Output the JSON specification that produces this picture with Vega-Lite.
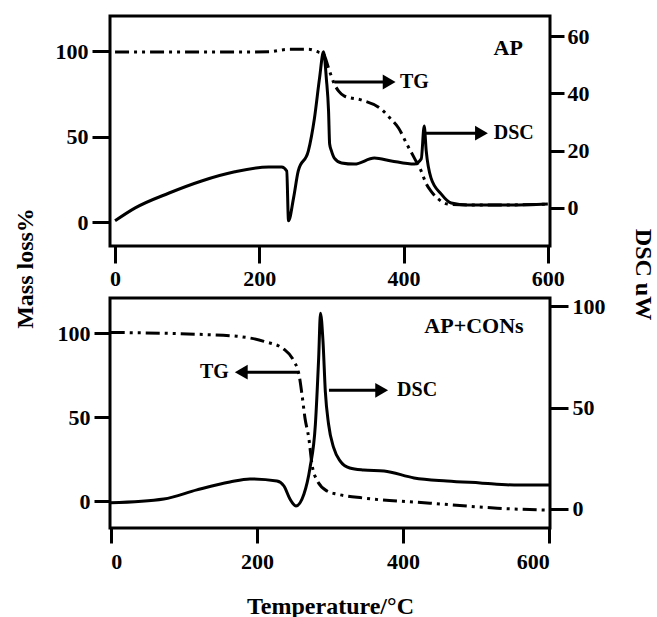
{
  "$schema": "https://vega.github.io/schema/vega-lite/v6.json",
  "padding": {"left": 11, "top": 14, "right": 5, "bottom": 5},
  "bounds": "flush",
  "spacing": 52,
  "config": {
    "font": "Liberation Serif",
    "view": {"stroke": "black", "strokeWidth": 3},
    "axis": {
      "grid": false, "domain": false, "tickColor": "black", "tickWidth": 3,
      "labelFont": "Liberation Serif", "labelFontWeight": "bold", "labelFontSize": 22, "labelColor": "black",
      "titleFont": "Liberation Serif", "titleFontWeight": "bold", "titleFontSize": 24, "titleColor": "black"
    }
  },
  "datasets": {
    "topTG": [
      {"T": 0, "mass": 99.5}, {"T": 60, "mass": 99.5}, {"T": 120, "mass": 99.5}, {"T": 180, "mass": 99.5},
      {"T": 213, "mass": 99.6}, {"T": 240, "mass": 101}, {"T": 268, "mass": 101}, {"T": 282, "mass": 99.4},
      {"T": 289, "mass": 98.2}, {"T": 296, "mass": 90}, {"T": 304, "mass": 80.7}, {"T": 310, "mass": 76.6},
      {"T": 318, "mass": 73.7}, {"T": 342, "mass": 71.3}, {"T": 369, "mass": 66}, {"T": 383, "mass": 60},
      {"T": 393, "mass": 55}, {"T": 404, "mass": 46}, {"T": 415, "mass": 37.4}, {"T": 424.5, "mass": 29.8},
      {"T": 431, "mass": 22.8}, {"T": 438, "mass": 18.1}, {"T": 448, "mass": 13.5}, {"T": 462, "mass": 10.5},
      {"T": 489, "mass": 10}, {"T": 540, "mass": 10}, {"T": 600, "mass": 10.5}
    ],
    "topDSC": [
      {"T": 0, "dsc": -4.5}, {"T": 28, "dsc": 0}, {"T": 75, "dsc": 5.2}, {"T": 120, "dsc": 9.4},
      {"T": 166, "dsc": 12.6}, {"T": 213, "dsc": 14.3}, {"T": 231, "dsc": 14.3}, {"T": 238, "dsc": 12.9},
      {"T": 240.5, "dsc": -4.5}, {"T": 247.5, "dsc": 3.5}, {"T": 254, "dsc": 12.9}, {"T": 268, "dsc": 19.9},
      {"T": 276.5, "dsc": 31.4}, {"T": 283.5, "dsc": 45.3}, {"T": 289, "dsc": 54.5}, {"T": 293, "dsc": 45},
      {"T": 296, "dsc": 33.8}, {"T": 297.5, "dsc": 22.3}, {"T": 300, "dsc": 19.9}, {"T": 304, "dsc": 17.4},
      {"T": 314, "dsc": 15.7}, {"T": 332, "dsc": 15.3}, {"T": 359.5, "dsc": 17.4}, {"T": 383, "dsc": 16.4},
      {"T": 415, "dsc": 15.3}, {"T": 424.5, "dsc": 17.1}, {"T": 428.6, "dsc": 28.6}, {"T": 431.4, "dsc": 19.9},
      {"T": 438, "dsc": 10.5}, {"T": 452, "dsc": 4.9}, {"T": 466, "dsc": 1.7}, {"T": 489, "dsc": 1},
      {"T": 550, "dsc": 1}, {"T": 600, "dsc": 1.4}
    ],
    "topArrows": [
      {"from": 304, "to": 380, "head": 380, "mass": 81.9, "dir": "right"},
      {"from": 431, "to": 508, "head": 508, "mass": 52, "dir": "right"}
    ],
    "topLabels": [
      {"T": 395, "mass": 81.9, "label": "TG"},
      {"T": 525, "mass": 52, "label": "DSC"}
    ],
    "topName": [{"T": 545, "mass": 101.8, "label": "AP"}],
    "botTG": [
      {"T": 0, "mass": 100.5}, {"T": 72.6, "mass": 100}, {"T": 118, "mass": 99.4}, {"T": 172.6, "mass": 98.2},
      {"T": 209.6, "mass": 95.2}, {"T": 237, "mass": 90.5}, {"T": 250.7, "mass": 83.3}, {"T": 257.5, "mass": 75.6},
      {"T": 261.6, "mass": 63.7}, {"T": 265.8, "mass": 49.4}, {"T": 271.2, "mass": 37}, {"T": 275.3, "mass": 22},
      {"T": 282.2, "mass": 12.5}, {"T": 296, "mass": 6}, {"T": 309.6, "mass": 4.2}, {"T": 346.6, "mass": 1.8},
      {"T": 437, "mass": -1.2}, {"T": 528.8, "mass": -4.2}, {"T": 600, "mass": -5.4}
    ],
    "botDSC": [
      {"T": 0, "dsc": 3}, {"T": 72.6, "dsc": 4.9}, {"T": 117.8, "dsc": 9.4}, {"T": 163, "dsc": 13.3},
      {"T": 190.4, "dsc": 14.8}, {"T": 227.4, "dsc": 13.8}, {"T": 237, "dsc": 11.3}, {"T": 245.2, "dsc": 4.9},
      {"T": 253.4, "dsc": 1.5}, {"T": 264.4, "dsc": 7.4}, {"T": 272.6, "dsc": 20.2}, {"T": 280, "dsc": 41.7},
      {"T": 284.5, "dsc": 74.5}, {"T": 287, "dsc": 96.5}, {"T": 290.4, "dsc": 82.8}, {"T": 293.6, "dsc": 58},
      {"T": 298, "dsc": 41.9}, {"T": 305, "dsc": 30.2}, {"T": 314, "dsc": 23.6}, {"T": 327, "dsc": 20.2},
      {"T": 346, "dsc": 19.2}, {"T": 374, "dsc": 18.7}, {"T": 415, "dsc": 15.3}, {"T": 460, "dsc": 13.8},
      {"T": 505.5, "dsc": 12.8}, {"T": 552, "dsc": 11.8}, {"T": 600, "dsc": 11.8}
    ],
    "botArrows": [
      {"from": 257.5, "to": 178.6, "head": 178.6, "mass": 76.8, "dir": "left"},
      {"from": 298.6, "to": 370.7, "head": 370.7, "mass": 66, "dir": "right"}
    ],
    "botLabelR": [{"T": 161.6, "mass": 76.8, "label": "TG"}],
    "botLabelL": [{"T": 391.8, "mass": 66, "label": "DSC"}],
    "botName": [{"T": 497, "mass": 104.2, "label": "AP+CONs"}]
  },
  "vconcat": [
    {
      "width": 440,
      "height": 230,
      "layer": [
        {
          "layer": [
            {
              "data": {"name": "topTG"},
              "mark": {"type": "line", "color": "black", "strokeWidth": 3, "strokeDash": [14, 5, 3, 5, 3, 5], "interpolate": "monotone"},
              "encoding": {
                "x": {"field": "T", "type": "quantitative", "scale": {"domain": [-7, 603], "nice": false, "zero": false},
                      "axis": {"values": [0, 200, 400, 600], "title": null, "tickSize": 17, "labelPadding": 5}},
                "y": {"field": "mass", "type": "quantitative", "scale": {"domain": [-14, 120.5], "nice": false, "zero": false},
                      "axis": {"values": [0, 50, 100], "tickSize": 18, "labelPadding": 4, "title": "Mass loss%",
                               "titleAngle": 270, "titleX": -85, "titleY": 252, "titleAlign": "center", "titleBaseline": "middle"}}
              }
            },
            {
              "data": {"name": "topArrows"},
              "mark": {"type": "rule", "color": "black", "strokeWidth": 3},
              "encoding": {
                "x": {"field": "from", "type": "quantitative"},
                "x2": {"field": "to"},
                "y": {"field": "mass", "type": "quantitative"}
              }
            },
            {
              "data": {"name": "topArrows"},
              "mark": {"type": "point", "filled": true, "size": 220, "color": "black", "opacity": 1},
              "encoding": {
                "x": {"field": "head", "type": "quantitative"},
                "y": {"field": "mass", "type": "quantitative"},
                "shape": {"field": "dir", "type": "nominal", "scale": {"domain": ["left", "right"], "range": ["triangle-left", "triangle-right"]}, "legend": null}
              }
            },
            {
              "data": {"name": "topLabels"},
              "mark": {"type": "text", "align": "left", "baseline": "middle", "font": "Liberation Serif", "fontWeight": "bold", "fontSize": 20, "color": "black"},
              "encoding": {
                "x": {"field": "T", "type": "quantitative"},
                "y": {"field": "mass", "type": "quantitative"},
                "text": {"field": "label"}
              }
            },
            {
              "data": {"name": "topName"},
              "mark": {"type": "text", "align": "center", "baseline": "middle", "font": "Liberation Serif", "fontWeight": "bold", "fontSize": 22, "color": "black"},
              "encoding": {
                "x": {"field": "T", "type": "quantitative"},
                "y": {"field": "mass", "type": "quantitative"},
                "text": {"field": "label"}
              }
            }
          ]
        },
        {
          "data": {"name": "topDSC"},
          "mark": {"type": "line", "color": "black", "strokeWidth": 3, "interpolate": "monotone"},
          "encoding": {
            "x": {"field": "T", "type": "quantitative"},
            "y": {"field": "dsc", "type": "quantitative", "scale": {"domain": [-13.3, 67], "nice": false, "zero": false},
                  "axis": {"orient": "right", "values": [0, 20, 40, 60], "tickSize": 14, "labelPadding": 3, "title": "DSC uW",
                           "titleAngle": 90, "titleX": 92, "titleY": 258, "titleAlign": "center", "titleBaseline": "middle"}}
          }
        }
      ],
      "resolve": {"scale": {"y": "independent"}, "axis": {"y": "independent"}}
    },
    {
      "width": 440,
      "height": 230,
      "layer": [
        {
          "layer": [
            {
              "data": {"name": "botTG"},
              "mark": {"type": "line", "color": "black", "strokeWidth": 3, "strokeDash": [14, 5, 3, 5, 3, 5], "interpolate": "monotone"},
              "encoding": {
                "x": {"field": "T", "type": "quantitative", "scale": {"domain": [-1, 601], "nice": false, "zero": false},
                      "axis": {"values": [0, 200, 400, 600], "title": "Temperature/°C", "tickSize": 15, "labelPadding": 8,
                               "titleY": 85, "titleBaseline": "alphabetic"}},
                "y": {"field": "mass", "type": "quantitative", "scale": {"domain": [-16, 121], "nice": false, "zero": false},
                      "axis": {"values": [0, 50, 100], "tickSize": 16, "labelPadding": 4, "title": null}}
              }
            },
            {
              "data": {"name": "botArrows"},
              "mark": {"type": "rule", "color": "black", "strokeWidth": 3},
              "encoding": {
                "x": {"field": "from", "type": "quantitative"},
                "x2": {"field": "to"},
                "y": {"field": "mass", "type": "quantitative"}
              }
            },
            {
              "data": {"name": "botArrows"},
              "mark": {"type": "point", "filled": true, "size": 220, "color": "black", "opacity": 1},
              "encoding": {
                "x": {"field": "head", "type": "quantitative"},
                "y": {"field": "mass", "type": "quantitative"},
                "shape": {"field": "dir", "type": "nominal", "scale": {"domain": ["left", "right"], "range": ["triangle-left", "triangle-right"]}, "legend": null}
              }
            },
            {
              "data": {"name": "botLabelR"},
              "mark": {"type": "text", "align": "right", "baseline": "middle", "font": "Liberation Serif", "fontWeight": "bold", "fontSize": 20, "color": "black"},
              "encoding": {
                "x": {"field": "T", "type": "quantitative"},
                "y": {"field": "mass", "type": "quantitative"},
                "text": {"field": "label"}
              }
            },
            {
              "data": {"name": "botLabelL"},
              "mark": {"type": "text", "align": "left", "baseline": "middle", "font": "Liberation Serif", "fontWeight": "bold", "fontSize": 20, "color": "black"},
              "encoding": {
                "x": {"field": "T", "type": "quantitative"},
                "y": {"field": "mass", "type": "quantitative"},
                "text": {"field": "label"}
              }
            },
            {
              "data": {"name": "botName"},
              "mark": {"type": "text", "align": "center", "baseline": "middle", "font": "Liberation Serif", "fontWeight": "bold", "fontSize": 22, "color": "black"},
              "encoding": {
                "x": {"field": "T", "type": "quantitative"},
                "y": {"field": "mass", "type": "quantitative"},
                "text": {"field": "label"}
              }
            }
          ]
        },
        {
          "data": {"name": "botDSC"},
          "mark": {"type": "line", "color": "black", "strokeWidth": 3, "interpolate": "monotone"},
          "encoding": {
            "x": {"field": "T", "type": "quantitative"},
            "y": {"field": "dsc", "type": "quantitative", "scale": {"domain": [-9.4, 104], "nice": false, "zero": false},
                  "axis": {"orient": "right", "values": [0, 50, 100], "tickSize": 18, "labelPadding": 4, "title": null}}
          }
        }
      ],
      "resolve": {"scale": {"y": "independent"}, "axis": {"y": "independent"}}
    }
  ]
}
